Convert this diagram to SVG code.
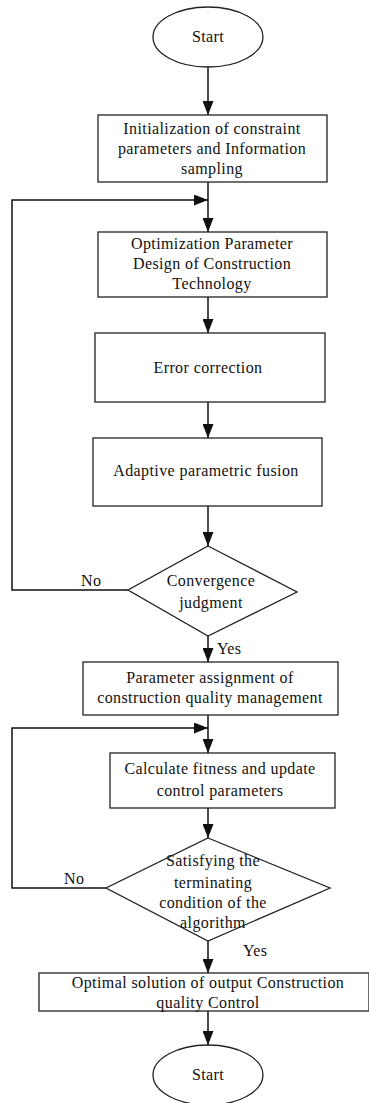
<svg xmlns="http://www.w3.org/2000/svg" width="369" height="1103" viewBox="0 0 369 1103">
<style>
.s{fill:#fff;stroke:#222;stroke-width:1.3}
.t{font-family:'Liberation Serif','Times New Roman',Times,serif;font-size:16px;letter-spacing:0.4px;fill:#111;text-anchor:middle}
.l{font-family:'Liberation Serif','Times New Roman',Times,serif;font-size:16px;letter-spacing:0.4px;fill:#111}
.c{fill:none;stroke:#111;stroke-width:1.5}
</style>
<defs>
<marker id="a" markerWidth="14" markerHeight="11" refX="14" refY="5.5" viewBox="0 0 14 11" markerUnits="userSpaceOnUse" orient="auto"><path d="M0,0L14,5.5L0,11z" fill="#111"/></marker>
</defs>
<rect width="369" height="1103" fill="#fff"/>
<g id="connectors">
<path class="c" d="M208,67V115" marker-end="url(#a)"/>
<path class="c" d="M208,182V232" marker-end="url(#a)"/>
<path class="c" d="M128,590H12V200H208" marker-end="url(#a)"/>
<path class="c" d="M208,297V333" marker-end="url(#a)"/>
<path class="c" d="M208,402V438" marker-end="url(#a)"/>
<path class="c" d="M208,506V546" marker-end="url(#a)"/>
<path class="c" d="M208,636V662" marker-end="url(#a)"/>
<path class="c" d="M208,715V753" marker-end="url(#a)"/>
<path class="c" d="M106,888H12V728H208" marker-end="url(#a)"/>
<path class="c" d="M208,808V838" marker-end="url(#a)"/>
<path class="c" d="M208,941V973" marker-end="url(#a)"/>
<path class="c" d="M208,1011V1045" marker-end="url(#a)"/>
<text class="l" x="81" y="586">No</text>
<text class="l" x="217" y="654">Yes</text>
<text class="l" x="64" y="884">No</text>
<text class="l" x="243" y="956">Yes</text>
</g>
<g id="start">
<ellipse class="s" cx="208" cy="37" rx="55" ry="30"/>
<text class="t" x="208" y="42">Start</text>
</g>
<g id="init">
<rect class="s" x="98" y="115" width="229" height="67"/>
<text class="t" x="212" y="134">Initialization of constraint</text>
<text class="t" x="212" y="154">parameters and Information</text>
<text class="t" x="212" y="174">sampling</text>
</g>
<g id="optdesign">
<rect class="s" x="98" y="232" width="229" height="65"/>
<text class="t" x="212" y="249">Optimization Parameter</text>
<text class="t" x="212" y="269">Design of Construction</text>
<text class="t" x="212" y="289">Technology</text>
</g>
<g id="error">
<rect class="s" x="95" y="333" width="230" height="69"/>
<text class="t" x="208" y="373">Error correction</text>
</g>
<g id="fusion">
<rect class="s" x="93" y="438" width="229" height="68"/>
<text class="t" x="206" y="476">Adaptive parametric fusion</text>
</g>
<g id="convergence">
<polygon class="s" points="208,546 297,592 208,636 128,590"/>
<text class="t" x="211" y="586">Convergence</text>
<text class="t" x="211" y="608">judgment</text>
</g>
<g id="assign">
<rect class="s" x="83" y="662" width="255" height="53"/>
<text class="t" x="210" y="683">Parameter assignment of</text>
<text class="t" x="210" y="703">construction quality management</text>
</g>
<g id="fitness">
<rect class="s" x="110" y="753" width="225" height="55"/>
<text class="t" x="220" y="774">Calculate fitness and update</text>
<text class="t" x="220" y="796">control parameters</text>
</g>
<g id="terminate">
<polygon class="s" points="208,838 330,888 208,941 106,888"/>
<text class="t" x="213" y="866">Satisfying the</text>
<text class="t" x="213" y="888">terminating</text>
<text class="t" x="213" y="908">condition of the</text>
<text class="t" x="213" y="928">algorithm</text>
</g>
<g id="output">
<rect class="s" x="39" y="973" width="330" height="38"/>
<text class="t" x="208" y="988">Optimal solution of output Construction</text>
<text class="t" x="208" y="1008">quality Control</text>
</g>
<g id="end">
<ellipse class="s" cx="208" cy="1075" rx="55" ry="30"/>
<text class="t" x="208" y="1080">Start</text>
</g>
</svg>
